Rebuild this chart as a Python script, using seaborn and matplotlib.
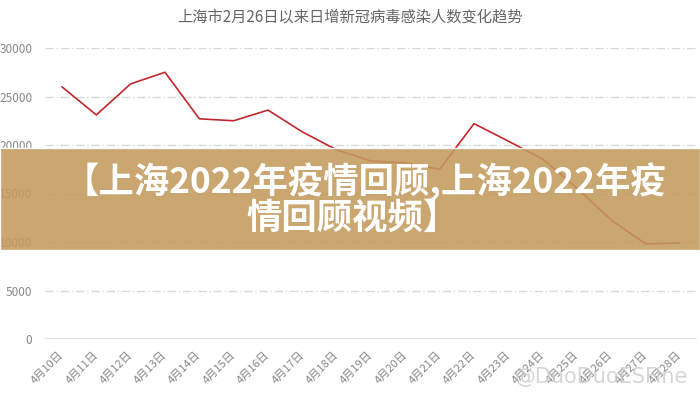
import pandas as pd
import numpy as np
import matplotlib.pyplot as plt
import seaborn as sns
from matplotlib.patches import Rectangle

# data
dates = ['4月10日', '4月11日', '4月12日', '4月13日', '4月14日', '4月15日', '4月16日',
         '4月17日', '4月18日', '4月19日', '4月20日', '4月21日', '4月22日', '4月23日',
         '4月24日', '4月25日', '4月26日', '4月27日', '4月28日']
cases = [26000, 23100, 26300, 27500, 22700, 22500, 23600,
         21350, 19500, 18350, 18150, 17500, 22200, 20400,
         18550, 15550, 12250, 9800, 9900]
yticks = [0, 5000, 10000, 15000, 20000, 25000, 30000]

title = '上海市2月26日以来日增新冠病毒感染人数变化趋势'
banner1 = '【上海2022年疫情回顾,上海2022年疫'
banner2 = '情回顾视频】'

sns.set_style('white')
plt.rcParams['font.family'] = ['Noto Sans CJK SC', 'DejaVu Sans']

df = pd.DataFrame({'date': dates, 'cases': cases})

fig = plt.figure(figsize=(7, 4), dpi=100)
ax = fig.add_axes([0.064, 0.1525, 0.932, 0.7275])

sns.lineplot(data=df, x='date', y='cases', color='#c0282d', linewidth=1.2, ax=ax, sort=False)

ax.set_xlim(-0.5, len(dates) - 0.5)
ax.set_ylim(0, 30000)
ax.set_yticks(yticks)
ax.set_yticklabels([str(v) for v in yticks])
ax.set_xlabel('')
ax.set_ylabel('')

# dash-dot grid like the original
for v in yticks[1:]:
    ax.axhline(v, color='#d9d9d9', linewidth=1, linestyle=(0, (6, 2, 1, 2)), zorder=0)
ax.axhline(0, color='#d9d9d9', linewidth=1.2, zorder=0)

for s in ax.spines.values():
    s.set_visible(False)
ax.tick_params(axis='y', length=0, pad=9, labelsize=8.5, labelcolor='#888888')
ax.tick_params(axis='x', length=0, pad=10, labelsize=8, labelcolor='#888888')
plt.setp(ax.get_xticklabels(), rotation=45, ha='right', va='center', rotation_mode='anchor')

fig.text(0.5, 0.9575, title, ha='center', va='center', fontsize=11, color='#666666')

# banner overlay
fig.patches.append(Rectangle((0, 0.375), 1, 0.255, transform=fig.transFigure,
                             facecolor='#c3995c', alpha=0.87, zorder=5))
fig.text(0.522, 0.545, banner1, ha='center', va='center', fontsize=25.5,
         fontweight='heavy', color='white', zorder=6)
fig.text(0.503, 0.455, banner2, ha='center', va='center', fontsize=25.5,
         fontweight='heavy', color='white', zorder=6)

# watermark
fig.text(0.735, 0.058, '@DuoDuoESFine', ha='left', va='center', fontsize=15,
         color='#cccccc', alpha=0.8, family=['DejaVu Sans'])

plt.savefig('out.png', dpi=100)
